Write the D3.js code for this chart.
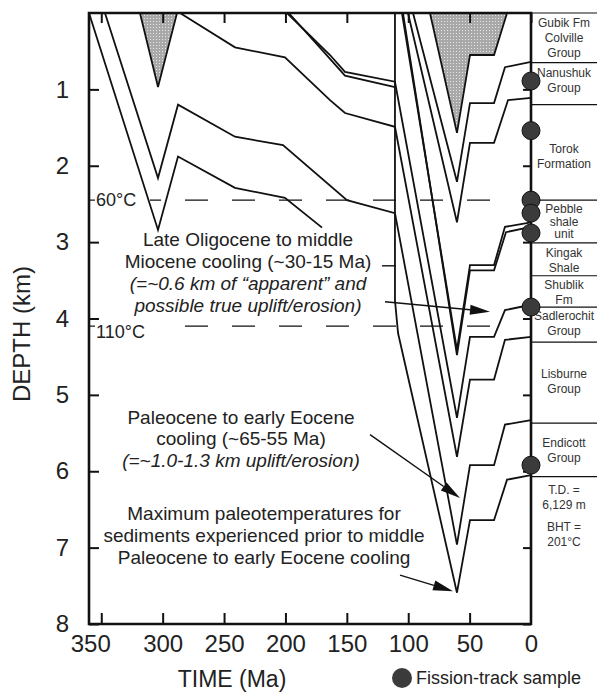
<!DOCTYPE html>
<html>
<head>
<meta charset="utf-8">
<script src="https://cdnjs.cloudflare.com/ajax/libs/d3/7.8.5/d3.min.js"></script>
<style>
  body { margin: 0; background: #fff; }
  svg { display: block; font-family: Arial, "Liberation Sans", Helvetica, sans-serif; }
</style>
</head>
<body>
<svg id="chart" width="597" height="694"></svg>
<script>
// ---- data (age in Ma, depth in km) ----
const timeTicks = [350, 300, 250, 200, 150, 100, 50, 0];
const depthTicks = [1, 2, 3, 4, 5, 6, 7, 8];

// eroded (stippled) sections
const shadedEarly = [[318.5, 0], [303.8, 0.97], [288.3, 0]];
const shadedColville = [[82.3, 0], [60.3, 1.57], [49.7, 0.55], [30.1, 0.55], [19.5, 0]];

// burial curves, older strata first coming in from the left
const horizonA = [[198.7, 0], [163.7, 0.55], [151.5, 0.77], [110.8, 0.90], [60.3, 5.30], [49.7, 4.24], [30.1, 4.24], [21.2, 3.89], [0, 3.82]];
const horizonA2 = [[197.3, 0], [163.7, 0.60], [151.5, 0.82], [110.8, 0.97]];
const horizonB = [[285.9, 0], [241.1, 0.45], [200.4, 0.58], [163.7, 1.14], [151.5, 1.31], [110.8, 1.49], [60.3, 5.81], [49.7, 4.80], [30.1, 4.80], [21.2, 4.28], [0, 4.24]];
const horizonC = [[347, 0], [303.8, 2.16], [287.5, 1.20], [241.1, 1.62], [202, 1.73], [149.9, 2.45], [110.8, 2.62], [60.3, 6.96], [49.7, 5.92], [30.1, 5.92], [21.2, 5.39], [0, 5.33]];
const horizonD = [[360, 0], [303.8, 2.84], [287.5, 1.88], [241.1, 2.29], [200.4, 2.42], [170.2, 2.81]];
const horizonE = [[110.8, 0], [110.8, 3.76], [108.3, 4.19], [60.3, 7.59], [49.7, 6.64], [30.1, 6.64], [19.5, 6.11], [0, 6.05]];
// Brookian strata
const horizonF = [[105.1, 0], [60.3, 4.41], [49.7, 3.30], [30.1, 3.30], [21.2, 2.80], [0, 2.74]];
const horizonF2 = [[104.3, 0], [60.3, 4.48], [49.7, 3.37], [30.1, 3.37], [20.4, 2.87], [0, 2.80]];
const horizonG = [[100.2, 0], [60.3, 2.74], [49.7, 1.70], [30.1, 1.70], [18.7, 1.14], [0, 1.11]];
const horizonH = [[96.1, 0], [60.3, 2.21], [49.7, 1.18], [30.1, 1.18], [21.2, 0.71], [0, 0.64]];

const isotherms = [{ label: "60°C", depth: 2.45 }, { label: "110°C", depth: 4.10 }];

const sampleDepths = [0.89, 1.54, 2.45, 2.62, 2.88, 3.85, 5.92];

const formationTops = [0.65, 1.20, 2.45, 3.01, 3.44, 3.85, 4.31, 5.37, 6.07];
const formationNames = [
  ["Gubik Fm"], ["Colville", "Group"], ["Nanushuk", "Group"], ["Torok", "Formation"],
  ["Pebble", "shale", "unit"], ["Kingak", "Shale"], ["Shublik", "Fm"], ["Sadlerochit", "Group"],
  ["Lisburne", "Group"], ["Endicott", "Group"]
];
const formationMid = [0.13, 0.42, 0.88, 1.88, 2.73, 3.24, 3.66, 4.06, 4.82, 5.72];
const wellNotes = ["T.D. =", "6,129 m", "BHT =", "201°C"];

// annotation arrows: [age, depth] start -> end
const arrows = [
  [[118.9, 3.78], [33.4, 3.91]],
  [[131.1, 5.52], [57.8, 6.35]],
  [[106.7, 7.36], [63.5, 7.57]]
];
const leader = [[121.4, 3.31], [110.0, 3.31]];

const notes = [
  { x: 248, y: [239, 261, 283, 305], lines: ["Late Oligocene to middle", "Miocene cooling (~30-15 Ma)", "(=~0.6 km of “apparent” and", "possible true uplift/erosion)"], italic: [0, 0, 1, 1] },
  { x: 241, y: [417, 438, 460], lines: ["Paleocene to early Eocene", "cooling (~65-55 Ma)", "(=~1.0-1.3 km uplift/erosion)"], italic: [0, 0, 1] },
  { x: 264, y: [513, 535, 557], lines: ["Maximum paleotemperatures for", "sediments experienced prior to middle", "Paleocene to early Eocene cooling"], italic: [0, 0, 0] }
];

// ---- chart ----
const svg = d3.select("#chart");
const x = d3.scaleLinear().domain([360, 0]).range([89, 531]);
const y = d3.scaleLinear().domain([0, 8]).range([13, 624]);
const ink = "#111";

const defs = svg.append("defs");
const pat = defs.append("pattern").attr("id", "stip")
  .attr("width", 3).attr("height", 3).attr("patternUnits", "userSpaceOnUse");
pat.append("rect").attr("width", 3).attr("height", 3).attr("fill", "#a9a9a9");
pat.append("rect").attr("width", 1).attr("height", 1).attr("fill", "#e6e6e6");

const line = d3.line().x(d => x(d[0])).y(d => y(d[1]));

// shaded polygons
[shadedEarly, shadedColville].forEach(p => {
  svg.append("path").attr("d", line(p) + "Z")
    .attr("fill", "url(#stip)").attr("stroke", ink).attr("stroke-width", 1.8);
});

// isotherms
isotherms.forEach((t, i) => {
  const yy = y(t.depth);
  svg.append("line").attr("x1", i ? 185 : 150).attr("x2", 492).attr("y1", yy).attr("y2", yy)
    .attr("stroke", ink).attr("stroke-width", 1.4)
    .attr("stroke-dasharray", "23,24").attr("stroke-dashoffset", i ? 0 : 12);
  svg.append("line").attr("x1", 89).attr("x2", 95).attr("y1", yy).attr("y2", yy)
    .attr("stroke", ink).attr("stroke-width", 1.2);
  svg.append("text").attr("x", 96).attr("y", yy + (i ? 6 : 0)).attr("dy", "0.35em")
    .attr("font-size", 18).attr("fill", "#222").text(t.label);
});

// burial curves
[horizonA, horizonA2, horizonB, horizonC, horizonD, horizonE, horizonF, horizonF2, horizonG, horizonH].forEach(h => {
  svg.append("path").attr("d", line(h)).attr("fill", "none")
    .attr("stroke", ink).attr("stroke-width", 1.8).attr("stroke-linejoin", "miter");
});

// annotation text
notes.forEach(n => {
  n.lines.forEach((s, i) => {
    svg.append("text").attr("x", n.x).attr("y", n.y[i]).attr("dy", "0.35em")
      .attr("text-anchor", "middle").attr("font-size", 19).attr("fill", "#222")
      .attr("font-style", n.italic[i] ? "italic" : "normal").text(s);
  });
});

// arrows
svg.append("path").attr("d", line(leader)).attr("stroke", ink).attr("stroke-width", 1.4);
arrows.forEach(a => {
  const x0 = x(a[0][0]), y0 = y(a[0][1]), x1 = x(a[1][0]), y1 = y(a[1][1]);
  const ang = Math.atan2(y1 - y0, x1 - x0), L = 20, W = 5;
  const bx = x1 - L * Math.cos(ang), by = y1 - L * Math.sin(ang);
  svg.append("line").attr("x1", x0).attr("y1", y0).attr("x2", bx).attr("y2", by)
    .attr("stroke", ink).attr("stroke-width", 1.4);
  svg.append("path").attr("fill", ink)
    .attr("d", `M${x1},${y1}L${bx + W * Math.sin(ang)},${by - W * Math.cos(ang)}L${bx - W * Math.sin(ang)},${by + W * Math.cos(ang)}Z`);
});

// formation column
formationTops.forEach(d => {
  svg.append("line").attr("x1", 531).attr("x2", 597).attr("y1", y(d)).attr("y2", y(d))
    .attr("stroke", ink).attr("stroke-width", 1.2);
});
svg.append("line").attr("x1", 531).attr("x2", 597).attr("y1", 13).attr("y2", 13)
  .attr("stroke", ink).attr("stroke-width", 1.2);
formationNames.forEach((names, i) => {
  const lh = names.length > 2 ? 12.5 : 15;
  const c = y(formationMid[i]);
  names.forEach((s, j) => {
    svg.append("text").attr("x", 564).attr("y", c + (j - (names.length - 1) / 2) * lh)
      .attr("dy", "0.35em").attr("text-anchor", "middle").attr("font-size", 12)
      .attr("fill", "#333").text(s);
  });
});
[490, 505, 527, 542].forEach((yy, i) => {
  svg.append("text").attr("x", 564).attr("y", yy).attr("dy", "0.35em")
    .attr("text-anchor", "middle").attr("font-size", 12).attr("fill", "#333").text(wellNotes[i]);
});

// axes
const gB = svg.append("g").attr("transform", `translate(0,${y(8)})`)
  .call(d3.axisBottom(x).tickValues(timeTicks).tickSizeInner(-11).tickSizeOuter(0).tickPadding(11));
const gT = svg.append("g").attr("transform", `translate(0,${y(0)})`)
  .call(d3.axisTop(x).tickValues(timeTicks).tickSizeInner(-10).tickSizeOuter(0).tickFormat(""));
const gL = svg.append("g").attr("transform", `translate(${x(360)},0)`)
  .call(d3.axisLeft(y).tickValues(depthTicks).tickSizeInner(-10).tickSizeOuter(0).tickPadding(20));
const gR = svg.append("g").attr("transform", `translate(${x(0)},0)`)
  .call(d3.axisRight(y).tickValues(depthTicks).tickSizeInner(-8).tickSizeOuter(0).tickFormat(""));
[gB, gT, gL, gR].forEach(g => {
  g.select(".domain").remove();
  g.selectAll(".tick line").attr("stroke", ink).attr("stroke-width", 2);
  g.selectAll(".tick text").attr("font-size", 24).attr("fill", "#222").attr("font-family", "Arial, 'Liberation Sans', sans-serif");
});
gB.selectAll(".tick text").filter(d => d === 350).attr("dx", -11);
gB.selectAll(".tick").filter(d => d === 0).select("line").remove();

// frame
svg.append("path")
  .attr("d", `M${x(360)},${y(0)}H${x(0)}V${y(8)}H${x(360)}Z`)
  .attr("fill", "none").attr("stroke", ink).attr("stroke-width", 2.6);

// fission-track samples
sampleDepths.forEach(d => {
  svg.append("circle").attr("cx", x(0)).attr("cy", y(d)).attr("r", 9)
    .attr("fill", "#3b3b3b").attr("stroke", "#111").attr("stroke-width", 1);
});

// axis titles and legend
svg.append("text").attr("transform", `translate(30,334) rotate(-90)`)
  .attr("text-anchor", "middle").attr("font-size", 24).attr("fill", "#222").text("DEPTH (km)");
svg.append("text").attr("x", 232).attr("y", 679).attr("dy", "0.35em")
  .attr("text-anchor", "middle").attr("font-size", 23).attr("fill", "#222").text("TIME (Ma)");
svg.append("circle").attr("cx", 402).attr("cy", 678).attr("r", 10).attr("fill", "#3b3b3b");
svg.append("text").attr("x", 416).attr("y", 678).attr("dy", "0.35em")
  .attr("font-size", 18).attr("fill", "#222").text("Fission-track sample");
</script>
</body>
</html>
